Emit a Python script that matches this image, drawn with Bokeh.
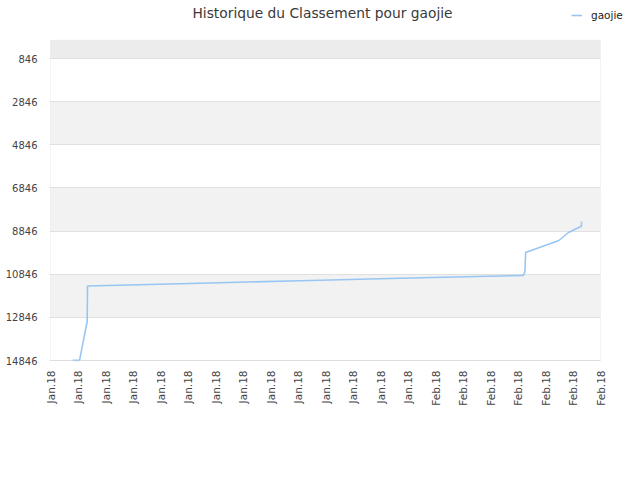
import math
import pandas as pd
from bokeh.plotting import figure
from bokeh.models import (Range1d, FixedTicker, DatetimeTickFormatter, BoxAnnotation,
                          Legend, LegendItem, ColumnDataSource, Label)
from bokeh.embed import file_html
from bokeh.resources import INLINE

# ---- data ----
dates = ["2018-01-13 05:00", "2018-01-13 14:00", "2018-01-14 00:00", "2018-01-14 00:30",
         "2018-01-20 04:00", "2018-01-25 15:00", "2018-01-31 02:00", "2018-02-06 19:00",
         "2018-02-06 21:00", "2018-02-06 22:00", "2018-02-08 17:30", "2018-02-09 06:00",
         "2018-02-09 23:00", "2018-02-09 23:15"]
ranks = [14840, 14840, 13038, 11393, 11263, 11147, 11031, 10900,
         10720, 9840, 9283, 8912, 8620, 8402]
y_ticks = [846, 2846, 4846, 6846, 8846, 10846, 12846, 14846]
y_top = 0
x_start = "2018-01-12"
x_end = "2018-02-11"
series_name = "gaojie"
title_text = "Historique du Classement pour gaojie"

FONT = "DejaVu Sans"
LINE_COLOR = "#98c6f4"

# ---- geometry (pixels) ----
W, H = 636, 476
FL, FB = 49, 361            # frame left / bottom (canvas px); frame reaches top & right edges
PL, PR, PT, PB = 50, 600, 40, 360   # visible plot box
t0 = pd.Timestamp(x_start)
t1 = pd.Timestamp(x_end)
ms_per_px = (t1 - t0).value / 1e6 / (PR - PL)
u_per_px = (y_ticks[-1] - y_ticks[0]) / (PB - 58)
x_lo = t0.value / 1e6 - (PL - FL) * ms_per_px
x_hi = t0.value / 1e6 + (W - PL) * ms_per_px
y_hi = y_ticks[-1] + (FB - PB) * u_per_px
y_lo = y_ticks[0] - 58 * u_per_px

src = ColumnDataSource(dict(x=pd.to_datetime(dates), y=ranks))
x_tick_dates = pd.date_range(x_start, periods=21, freq="36h")
x_tick_ms = [int(t.value // 10**6) for t in x_tick_dates]
xl, xr = t0.value / 1e6, t1.value / 1e6

p = figure(width=W, height=H, output_backend="svg", toolbar_location=None,
           x_axis_type="datetime",
           x_range=Range1d(x_lo, x_hi), y_range=Range1d(y_hi, y_lo),
           min_border_left=FL, min_border_right=0, min_border_top=0, min_border_bottom=H - FB)
p.title.text = ""
p.outline_line_color = None
p.background_fill_color = "white"
p.border_fill_color = "white"

# bands
p.add_layout(BoxAnnotation(left=xl, right=xr, bottom=y_top, top=y_ticks[0], fill_color="#ececec",
                           fill_alpha=1, line_color=None, level="image"))
for lo, hi in [(2846, 4846), (6846, 8846), (10846, 12846)]:
    p.add_layout(BoxAnnotation(left=xl, right=xr, bottom=lo, top=hi, fill_color="#f2f2f2",
                               fill_alpha=1, line_color=None, level="image"))

p.xgrid.grid_line_color = None
p.ygrid.grid_line_color = "#e0e0e0"
p.ygrid.ticker = FixedTicker(ticks=y_ticks)
# hide grid beyond the plot box on the right
p.add_layout(BoxAnnotation(left=xr, fill_color="white", fill_alpha=1, line_color=None, level="glyph"))
# plot box border
p.add_layout(BoxAnnotation(left=xl, right=xr, bottom=y_top, top=y_ticks[-1], fill_alpha=0,
                           line_color="#dcdcdc", line_width=1, level="guide"))

yax = p.yaxis[0]
yax.ticker = FixedTicker(ticks=y_ticks)
yax.axis_line_color = None
yax.major_tick_line_color = None
yax.minor_tick_line_color = None
yax.major_tick_out = 0
yax.major_label_standoff = 12
yax.major_label_text_font = FONT
yax.major_label_text_font_size = "10px"
yax.major_label_text_color = "#444444"

xax = p.xaxis[0]
xax.ticker = FixedTicker(ticks=x_tick_ms)
fmt = "%b.%y"
xax.formatter = DatetimeTickFormatter(microseconds=fmt, milliseconds=fmt, seconds=fmt, minsec=fmt,
                                      minutes=fmt, hourmin=fmt, hours=fmt, days=fmt, months=fmt, years=fmt)
xax.axis_line_color = None
xax.major_tick_line_color = None
xax.minor_tick_line_color = None
xax.major_tick_out = 0
xax.major_label_standoff = 9
xax.major_label_orientation = math.pi / 2
xax.major_label_text_font = FONT
xax.major_label_text_font_size = "10.5px"
xax.major_label_text_color = "#444444"

r = p.line("x", "y", source=src, line_color=LINE_COLOR, line_width=1.6)

# title (drawn inside the extended frame)
p.add_layout(Label(x=322 - FL, y=FB - 12, x_units="screen", y_units="screen", text=title_text,
                   text_align="center", text_baseline="middle", text_font=FONT,
                   text_font_size="13.8px", text_color="#3a3a3a"))

legend = Legend(items=[LegendItem(label=series_name, renderers=[r])],
                location=(571 - FL, FB - 22), orientation="horizontal",
                glyph_width=11, glyph_height=14, label_standoff=9, padding=0, spacing=0,
                margin=0, border_line_color=None, background_fill_alpha=0,
                label_text_font=FONT, label_text_font_size="10.5px", label_text_color="#222222")
p.add_layout(legend)

open("out.html", "w").write(file_html(p, INLINE))
